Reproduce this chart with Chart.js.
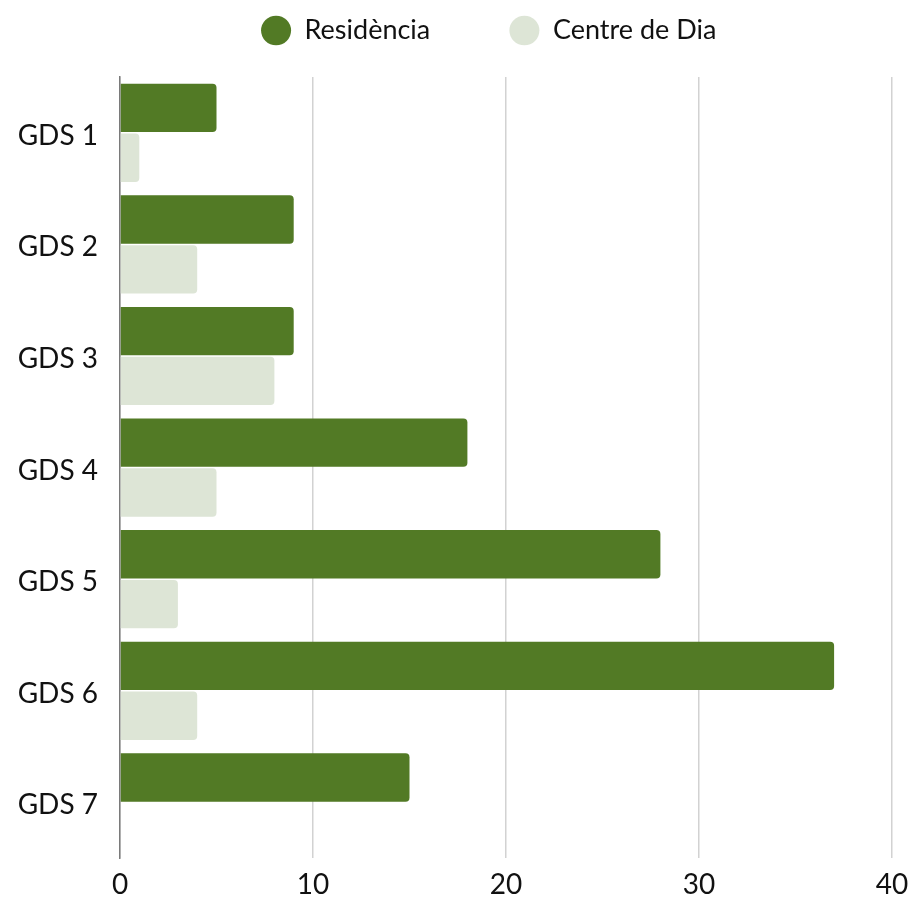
<!DOCTYPE html>
<html>
<head>
<meta charset="utf-8">
<script src="https://cdn.jsdelivr.net/npm/chart.js@4.4.1/dist/chart.umd.min.js"></script>
<style>
  html, body { margin: 0; padding: 0; background: #fff; }
  #wrap { width: 913px; height: 897px; }
</style>
</head>
<body>
<div id="wrap"><canvas id="gdsChart" width="913" height="897"></canvas></div>
<script>
// Dades del gràfic
const categories = ['GDS 1', 'GDS 2', 'GDS 3', 'GDS 4', 'GDS 5', 'GDS 6', 'GDS 7'];
const residencia = [5, 9, 9, 18, 28, 37, 15];
const centreDia = [1, 4, 8, 5, 3, 4, 0];
const xTicks = [0, 10, 20, 30, 40];

const FONT = 'Lato, "Open Sans", sans-serif';
const LEGEND_FONT = '27px ' + FONT;

// amplades de la llegenda (per separar els dos elements com a l'original)
function padLabel(text, targetWidth) {
    const m = document.createElement('canvas').getContext('2d');
    m.font = LEGEND_FONT;
    let t = text;
    while (m.measureText(t + ' ').width <= targetWidth) t += ' ';
    return t;
}

const ctx = document.getElementById('gdsChart').getContext('2d');
new Chart(ctx, {
    type: 'bar',
    data: {
        labels: categories,
        datasets: [{
            label: 'Residència',
            data: residencia,
            backgroundColor: '#527a25',
            borderRadius: 4,
            borderSkipped: 'start'
        }, {
            label: 'Centre de Dia',
            data: centreDia,
            backgroundColor: '#dde5d6',
            borderRadius: 4,
            borderSkipped: 'start'
        }]
    },
    options: {
        indexAxis: 'y',
        responsive: false,
        animation: false,
        devicePixelRatio: 1,
        layout: { padding: { top: 7, right: 21, left: 0, bottom: 0 } },
        datasets: { bar: { categoryPercentage: 0.893, barPercentage: 0.97 } },
        scales: {
            x: {
                position: 'bottom',
                min: 0, max: 40,
                afterBuildTicks: (s) => { s.ticks = xTicks.map(v => ({ value: v })); },
                afterFit: (s) => { s.height = 36; s.paddingLeft = 0; s.paddingRight = 0; },
                grid: { color: '#d2d2d2', lineWidth: 1.5, drawTicks: false },
                border: { display: false },
                ticks: { color: '#111', padding: 10, font: { family: FONT, size: 28 } }
            },
            // espaiador entre llegenda i gràfic
            spacer: {
                type: 'linear',
                position: 'top',
                display: true,
                afterFit: (s) => { s.height = 23; s.paddingLeft = 0; s.paddingRight = 0; },
                grid: { display: false },
                border: { display: false },
                ticks: { display: false }
            },
            y: {
                afterFit: (s) => { s.width = 120; },
                grid: { display: false, drawTicks: false },
                border: { display: true, color: '#7a7a7a', width: 1.5 },
                ticks: { color: '#111', padding: 22, labelOffset: 3, font: { family: FONT, size: 28 } }
            }
        },
        plugins: {
            legend: {
                position: 'top',
                fullSize: false,
                labels: {
                    usePointStyle: true,
                    pointStyle: 'circle',
                    boxHeight: 21,
                    boxWidth: 30,
                    pointStyleWidth: 30,
                    padding: 10,
                    color: '#111',
                    font: { family: FONT, size: 27 },
                    generateLabels: (chart) => {
                        const items = Chart.defaults.plugins.legend.labels.generateLabels(chart);
                        items[0].text = padLabel(items[0].text, 195);
                        items[1].text = padLabel(items[1].text, 202);
                        return items;
                    }
                }
            },
            tooltip: { enabled: false }
        }
    }
});
</script>
</body>
</html>
